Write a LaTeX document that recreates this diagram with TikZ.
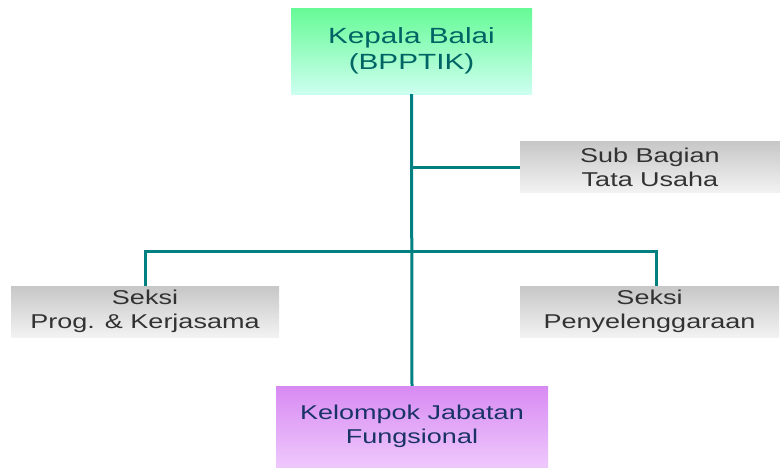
\documentclass[tikz,border=0pt]{standalone}
\usepackage{fontspec}
\setmainfont{Liberation Sans}[FakeStretch=1.35]
\definecolor{linkteal}{RGB}{0,128,128}
\definecolor{headtext}{RGB}{0,100,100}
\definecolor{unittext}{RGB}{50,50,50}
\definecolor{grouptext}{RGB}{26,51,102}
\tikzset{
  unit/.style={minimum width=260pt,minimum height=51pt,inner sep=0pt,align=center,
               top color=black!22,bottom color=black!5,text=unittext,
               font=\fontsize{20}{24}\selectfont},
  link/.style={draw=linkteal,line width=3pt}
}

\begin{document}
\begin{tikzpicture}[x=1pt,y=-1pt]
  \useasboundingbox (0,0) rectangle (780,469);
  \node [minimum width=241pt,minimum height=86pt,inner sep=0pt,align=center,
         top color={rgb,255:red,102;green,250;blue,150},
         bottom color={rgb,255:red,205;green,255;blue,240},
         text=headtext,font=\fontsize{22}{26}\selectfont]
        (kepala) at (411.5,51) {Kepala Balai\\(BPPTIK)};
  \node [unit] (tu) at (650,167) {Sub Bagian\\Tata Usaha};
  \node [unit,minimum width=268pt] (prog) at (145,311.5) {Seksi\\Prog. \& Kerjasama};
  \node [unit,minimum width=259pt] (penyel) at (649.5,311.5) {Seksi\\Penyelenggaraan};
  \node [minimum width=272pt,minimum height=81pt,inner sep=0pt,align=center,
         top color={rgb,255:red,215;green,138;blue,242},
         bottom color={rgb,255:red,238;green,200;blue,252},
         text=grouptext,font=\fontsize{20}{24}\selectfont]
        (kjf) at (412,426.5) {Kelompok Jabatan\\Fungsional};
  \coordinate (bus) at (412,251);
  \begin{scope}[link]
     \draw  (kepala.south) -- (kjf.north);
     \draw  (kepala.south |- tu.west) -- (tu.west);
     \draw  (prog.north) -- (prog.north |- bus) -- ([xshift=6.5pt]penyel.north |- bus) -- ([xshift=6.5pt]penyel.north);
  \end{scope}
\end{tikzpicture}
\end{document}
